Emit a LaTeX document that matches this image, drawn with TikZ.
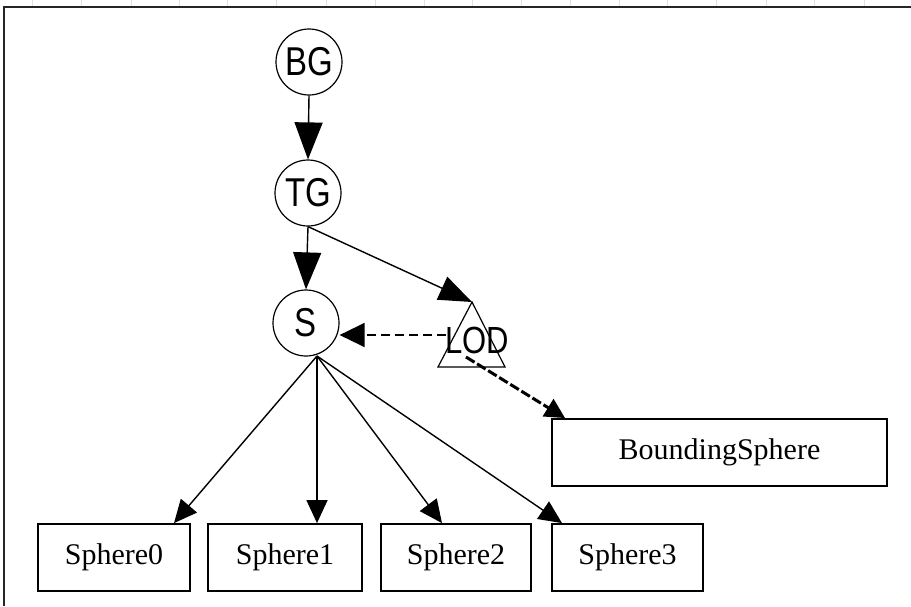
\documentclass[tikz,border=0pt]{standalone}
\usepackage{fontspec}
\setmainfont{Liberation Serif}
\newfontfamily\gvsans{Liberation Sans}
\usetikzlibrary{arrows.meta,calc}
\tikzset{
  gnode/.style={circle, draw=black, line width=1.2pt, minimum size=66pt, inner sep=0pt},
  gbox/.style={rectangle, draw=black, line width=1.8pt, minimum height=67pt, inner sep=0pt, font=\fontsize{30}{30}\selectfont},
  conn/.style={draw=black, line width=1.4pt},
  bighead/.style={-{Triangle[length=37pt,width=28pt]}},
  midhead/.style={-{Triangle[length=33pt,width=25pt]}},
  smallhead/.style={-{Triangle[length=23pt,width=21pt]}},
}
\newcommand{\gvlabel}[2]{{\gvsans\fontsize{#1}{#1}\selectfont\scalebox{1}[1.22]{#2}}}
\begin{document}
\begin{tikzpicture}[x=1pt,y=-1pt]
\useasboundingbox (0,0) rectangle (911,606);
% faint top ticks
\foreach \gx in {32,81,131,179,227,276,326,375,424,472,521,570,619,667,716,766,814,864}
  \draw[black!12, line width=1pt] (\gx,0) -- (\gx,6);
% frame
\draw[black!85, line width=1.5pt] (911,7) -- (4,7) -- (4,606);

% graph nodes
\node[gnode] (bg) at (309,62) {\gvlabel{33}{BG}};
\node[gnode] (tg) at (308,193) {\gvlabel{33}{TG}};
\node[gnode] (s) at (306,323) {\gvlabel{33}{S}};

% LOD triangle
\coordinate (lodtop) at (472,302);
\coordinate (lodl) at (438,367);
\coordinate (lodr) at (505,367);
\draw[black, line width=1.2pt] (lodtop) -- (lodr) -- (lodl) -- cycle;
\node[inner sep=0pt] (lod) at (477,340) {\gvlabel{31}{LOD}};
\coordinate (lodw) at (446,335);
\coordinate (lods) at (466,357);

% boxes
\node[gbox, minimum width=335pt] (bs) at (719.5,452.5) {BoundingSphere};
\node[gbox, minimum width=152pt] (s0) at (114,557.5) {Sphere0};
\node[gbox, minimum width=154pt] (s1) at (285,557.5) {Sphere1};
\node[gbox, minimum width=150pt] (s2) at (456,557.5) {Sphere2};
\node[gbox, minimum width=151pt] (s3) at (627.5,557.5) {Sphere3};
\coordinate (bstip) at ($(bs.north west)+(14,0)$);
\coordinate (t0) at (s0.north -| 174,0);
\coordinate (t1) at (s1.north -| 317,0);
\coordinate (t2) at (s2.north -| 442,0);
\coordinate (t3) at (s3.north -| 562,0);

% connectors
\draw[conn, bighead] (bg.south) -- (tg.north);
\draw[conn, bighead] (tg.south) -- (s.north);
\draw[conn, midhead] (tg.south) -- (lodtop);
\draw[conn, dash pattern=on 9pt off 5pt, -{Triangle[length=25pt,width=24pt]}] (lodw) -- (s.east |- lodw);
\draw[black, line width=3pt, dash pattern=on 10pt off 3pt, -{Triangle[length=20pt,width=20pt]}] (lods) -- (bstip);
\coordinate (sfoot) at (317,356);
\draw[conn, smallhead] (sfoot) -- (t0);
\draw[conn, smallhead] (sfoot) -- (t1);
\draw[conn, smallhead] (sfoot) -- (t2);
\draw[conn, smallhead] (sfoot) -- (t3);
\end{tikzpicture}
\end{document}
